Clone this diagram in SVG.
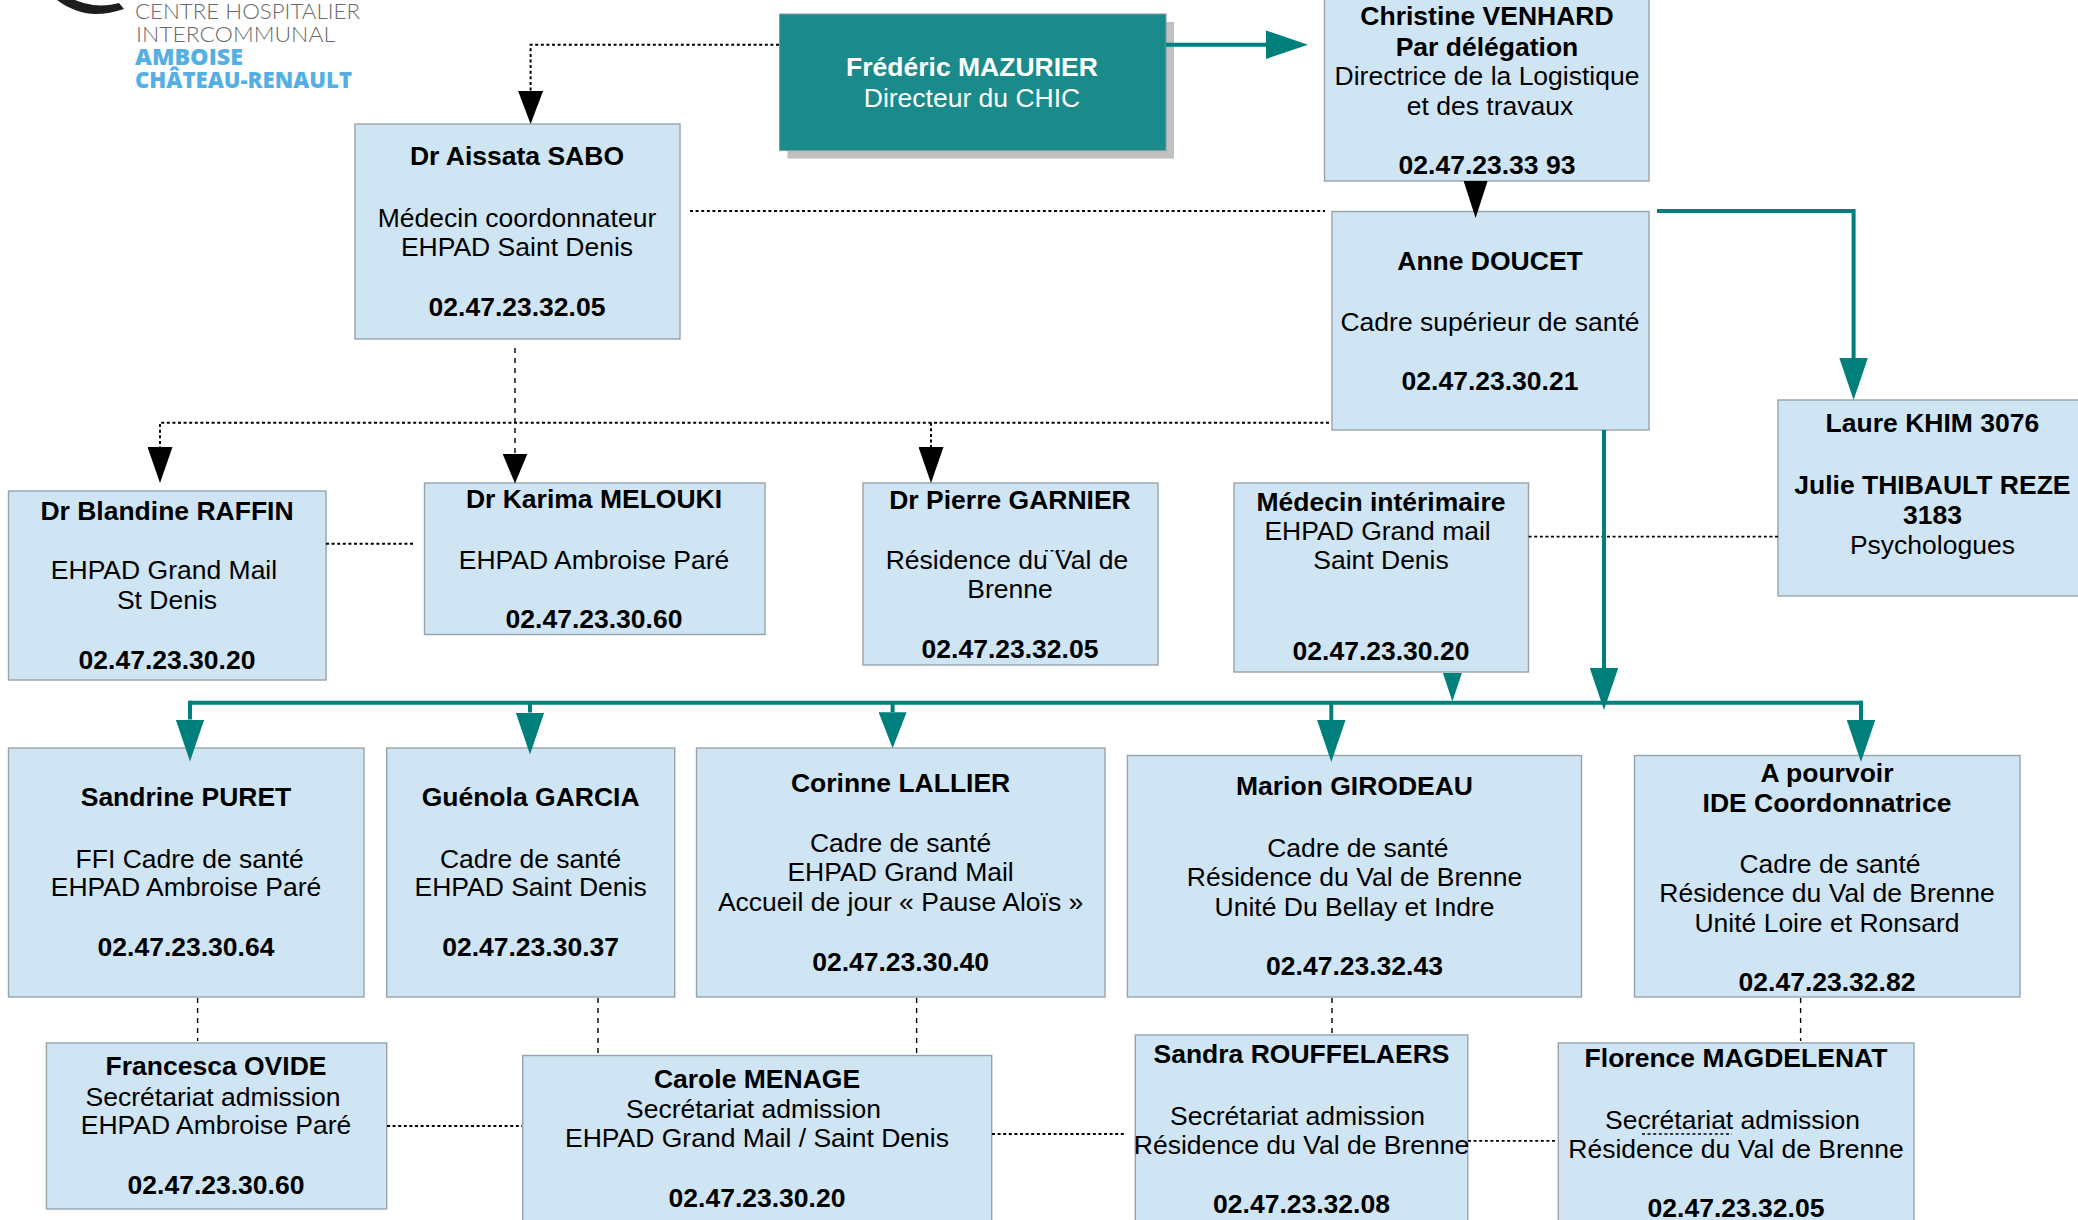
<svg xmlns="http://www.w3.org/2000/svg" width="2078" height="1220" viewBox="0 0 2078 1220">
<style>
text{font-family:"Liberation Sans",Arial,sans-serif;font-size:26.5px;fill:#000;text-anchor:middle}
.b{font-weight:700}
.box{fill:#cfe5f4;stroke:#98a4ac;stroke-width:1.4}
.dir text{fill:#fff}
.dot{fill:none;stroke:#000;stroke-width:2;stroke-dasharray:3 2.6}
.fine{stroke-width:1.6}
.dash{fill:none;stroke:#000;stroke-width:1.4;stroke-dasharray:5 5}
.teal{fill:none;stroke:#00807c;stroke-width:4}
.logo text{text-anchor:start}
.thin{font-family:"Lato","Open Sans",sans-serif;font-weight:300;font-size:22px;fill:#6a6a6a}
.blue{font-family:"Open Sans","Lato",sans-serif;font-weight:800;font-size:22px;fill:#54b0e4}
</style>
<defs>
<marker id="bk36" markerUnits="userSpaceOnUse" markerWidth="36" markerHeight="25" viewBox="0 0 36 25" refX="0" refY="12.5" orient="auto"><path d="M0 0L36 12.5L0 25Z" fill="#000"/></marker>
<marker id="bk33" markerUnits="userSpaceOnUse" markerWidth="33" markerHeight="25" viewBox="0 0 33 25" refX="0" refY="12.5" orient="auto"><path d="M0 0L33 12.5L0 25Z" fill="#000"/></marker>
<marker id="bk30" markerUnits="userSpaceOnUse" markerWidth="30" markerHeight="25" viewBox="0 0 30 25" refX="0" refY="12.5" orient="auto"><path d="M0 0L30 12.5L0 25Z" fill="#000"/></marker>
<marker id="tl42" markerUnits="userSpaceOnUse" markerWidth="42" markerHeight="28.5" viewBox="0 0 42 28.5" refX="0" refY="14.25" orient="auto"><path d="M0 0L42 14.25L0 28.5Z" fill="#00807c"/></marker>
<marker id="tl36" markerUnits="userSpaceOnUse" markerWidth="36" markerHeight="28" viewBox="0 0 36 28" refX="0" refY="14" orient="auto"><path d="M0 0L36 14L0 28Z" fill="#00807c"/></marker>
</defs>
<rect width="2078" height="1220" fill="#fff"/>

<g id="logo" class="logo">
<path d="M57 0C70 10 85 14 95 14C105 14 115 12 124 9L119 3C112 5 103 6 93 5C87 4 80 2 75 0Z" fill="#1d1d1b"/>
<text class="thin" x="135" y="19" textLength="225" lengthAdjust="spacingAndGlyphs">CENTRE HOSPITALIER</text>
<text class="thin" x="136" y="42" textLength="199" lengthAdjust="spacingAndGlyphs">INTERCOMMUNAL</text>
<text class="blue" x="135" y="64.5" textLength="108" lengthAdjust="spacingAndGlyphs">AMBOISE</text>
<text class="blue" x="135" y="87.5" textLength="217" lengthAdjust="spacingAndGlyphs">CHÂTEAU-RENAULT</text>
</g>

<g id="node-mazurier" class="dir">
<rect x="787.5" y="22" width="386.500" height="136.600" fill="#c0c0c0"/>
<rect x="779.500" y="14" width="386.500" height="136.600" fill="#1a8a8a" stroke="#8a9aa0" stroke-width="1"/>
<text class="b" x="972" y="76.300">Frédéric MAZURIER</text>
<text x="972" y="106.800">Directeur du CHIC</text>
</g>
<g id="node-venhard">
<rect class="box" x="1324.500" y="-2" width="324.500" height="183"/>
<text class="b" x="1487" y="24.500">Christine VENHARD</text>
<text class="b" x="1487" y="56">Par délégation</text>
<text x="1487" y="84.600">Directrice de la Logistique</text>
<text x="1490" y="115">et des travaux</text>
<text class="b" x="1487" y="174.400">02.47.23.33 93</text>
</g>
<g id="node-sabo">
<rect class="box" x="355" y="124" width="325" height="215"/>
<text class="b" x="517" y="165">Dr Aissata SABO</text>
<text x="517" y="226.600">Médecin coordonnateur</text>
<text x="517" y="255.800">EHPAD Saint Denis</text>
<text class="b" x="517" y="315.500">02.47.23.32.05</text>
</g>
<g id="node-doucet">
<rect class="box" x="1332" y="211.500" width="317" height="218.500"/>
<text class="b" x="1490" y="269.700">Anne DOUCET</text>
<text x="1490" y="330.600">Cadre supérieur de santé</text>
<text class="b" x="1490" y="389.500">02.47.23.30.21</text>
</g>
<g id="node-khim">
<rect class="box" x="1778" y="400" width="312" height="196"/>
<text class="b" x="1932.400" y="431.800">Laure KHIM 3076</text>
<text class="b" x="1932.400" y="493.500">Julie THIBAULT REZE</text>
<text class="b" x="1932.400" y="523.500">3183</text>
<text x="1932.400" y="553.600">Psychologues</text>
</g>
<g id="node-raffin">
<rect class="box" x="8.500" y="491" width="317.500" height="189"/>
<text class="b" x="167" y="519.600">Dr Blandine RAFFIN</text>
<text x="164" y="579.300">EHPAD Grand Mail</text>
<text x="167" y="609.300">St Denis</text>
<text class="b" x="167" y="669">02.47.23.30.20</text>
</g>
<g id="node-melouki">
<rect class="box" x="424.500" y="483" width="340.500" height="151.500"/>
<text class="b" x="594" y="507.700">Dr Karima MELOUKI</text>
<text x="594" y="568.600">EHPAD Ambroise Paré</text>
<text class="b" x="594" y="628">02.47.23.30.60</text>
</g>
<g id="node-garnier">
<rect class="box" x="863" y="483" width="295" height="182"/>
<text class="b" x="1010" y="508.500">Dr Pierre GARNIER</text>
<text x="1007" y="568.600">Résidence du Val de</text>
<text x="1010" y="598">Brenne</text>
<text class="b" x="1010" y="657.500">02.47.23.32.05</text>
</g>
<g id="node-interim">
<rect class="box" x="1234" y="483" width="294.500" height="189"/>
<text class="b" x="1381" y="511">Médecin intérimaire</text>
<text x="1377.600" y="540">EHPAD Grand mail</text>
<text x="1381" y="569.400">Saint Denis</text>
<text class="b" x="1381" y="660">02.47.23.30.20</text>
</g>
<g id="node-puret">
<rect class="box" x="8.500" y="748" width="355.500" height="249"/>
<text class="b" x="186" y="806.400">Sandrine PURET</text>
<text x="189.700" y="867.600">FFI Cadre de santé</text>
<text x="186" y="896.300">EHPAD Ambroise Paré</text>
<text class="b" x="186" y="956">02.47.23.30.64</text>
</g>
<g id="node-garcia">
<rect class="box" x="386.700" y="748" width="288" height="249"/>
<text class="b" x="530.600" y="806.400">Guénola GARCIA</text>
<text x="530.600" y="867.600">Cadre de santé</text>
<text x="530.600" y="896.300">EHPAD Saint Denis</text>
<text class="b" x="530.600" y="956">02.47.23.30.37</text>
</g>
<g id="node-lallier">
<rect class="box" x="696.500" y="748" width="408.500" height="249"/>
<text class="b" x="900.600" y="792">Corinne LALLIER</text>
<text x="900.600" y="852.300">Cadre de santé</text>
<text x="900.600" y="881">EHPAD Grand Mail</text>
<text x="900.600" y="911">Accueil de jour « Pause Aloïs »</text>
<text class="b" x="900.600" y="971">02.47.23.30.40</text>
</g>
<g id="node-girodeau">
<rect class="box" x="1127.400" y="755.500" width="454.100" height="241.500"/>
<text class="b" x="1354.500" y="795.300">Marion GIRODEAU</text>
<text x="1357.800" y="856.500">Cadre de santé</text>
<text x="1354.500" y="885.600">Résidence du Val de Brenne</text>
<text x="1354.500" y="915.800">Unité Du Bellay et Indre</text>
<text class="b" x="1354.500" y="975">02.47.23.32.43</text>
</g>
<g id="node-pourvoir">
<rect class="box" x="1634.500" y="755.500" width="385.500" height="241.500"/>
<text class="b" x="1827" y="781.500">A pourvoir</text>
<text class="b" x="1827" y="812">IDE Coordonnatrice</text>
<text x="1830" y="872.600">Cadre de santé</text>
<text x="1827" y="901.700">Résidence du Val de Brenne</text>
<text x="1827" y="932">Unité Loire et Ronsard</text>
<text class="b" x="1827" y="991">02.47.23.32.82</text>
</g>
<g id="node-ovide">
<rect class="box" x="46.400" y="1043" width="340.300" height="166"/>
<text class="b" x="216" y="1075">Francesca OVIDE</text>
<text x="213" y="1106">Secrétariat admission</text>
<text x="216" y="1134">EHPAD Ambroise Paré</text>
<text class="b" x="216" y="1194">02.47.23.30.60</text>
</g>
<g id="node-menage">
<rect class="box" x="522.700" y="1055.500" width="469" height="180"/>
<text class="b" x="757" y="1088">Carole MENAGE</text>
<text x="753.500" y="1118">Secrétariat admission</text>
<text x="757" y="1147.400">EHPAD Grand Mail / Saint Denis</text>
<text class="b" x="757" y="1207">02.47.23.30.20</text>
</g>
<g id="node-rouffelaers">
<rect class="box" x="1135.300" y="1035" width="332.500" height="200"/>
<text class="b" x="1301.500" y="1063">Sandra ROUFFELAERS</text>
<text x="1297.500" y="1125">Secrétariat admission</text>
<text x="1301.500" y="1153.500">Résidence du Val de Brenne</text>
<text class="b" x="1301.500" y="1213">02.47.23.32.08</text>
</g>
<g id="node-magdelenat">
<rect class="box" x="1558.300" y="1043" width="355.700" height="200"/>
<text class="b" x="1736" y="1067">Florence MAGDELENAT</text>
<text x="1732.500" y="1129">Secrétariat admission</text>
<text x="1736" y="1157.700">Résidence du Val de Brenne</text>
<text class="b" x="1736" y="1217.400">02.47.23.32.05</text>
</g>

<g id="connectors">
<path class="dot" d="M779 44.700H530.600V91" marker-end="url(#bk33)"/>
<path class="dot" d="M690 211H1325"/>
<path class="dash" d="M515 348V453.500" marker-end="url(#bk30)"/>
<path class="dot" d="M1329 422.700H160V447" marker-end="url(#bk36)"/>
<path class="dot" d="M931 422.700V447" marker-end="url(#bk36)"/>
<path class="dot" d="M326 543.700H415"/>
<path class="dot fine" d="M1528.600 536.600H1778"/>
<path d="M1463.600 181H1487.600L1475.600 218Z" fill="#000"/>
<path class="teal" d="M1166 44.700H1266" marker-end="url(#tl42)"/>
<path class="teal" d="M1657 211H1853.600V358" marker-end="url(#tl42)"/>
<path class="teal" d="M1604 430V668" marker-end="url(#tl42)"/>
<path class="teal" d="M190 702.700H1861"/>
<path class="teal" d="M190 700.700V719.500" marker-end="url(#tl42)"/>
<path class="teal" d="M530 702.700V712.500" marker-end="url(#tl42)"/>
<path class="teal" d="M892.600 702.700V712.200" marker-end="url(#tl36)"/>
<path class="teal" d="M1331.300 702.700V720" marker-end="url(#tl42)"/>
<path class="teal" d="M1861 700.700V720" marker-end="url(#tl42)"/>
<path d="M1442.900 673H1461.900L1452.400 701.500Z" fill="#00807c"/>
<path class="dash" d="M197.600 998V1041"/>
<path class="dash" d="M598 998V1055"/>
<path class="dash" d="M916.600 998V1055"/>
<path class="dash" d="M1332 998V1033"/>
<path class="dash" d="M1800.600 998V1041"/>
<path class="dot" d="M387 1126H522"/>
<path class="dot" d="M992 1134H1126"/>
<path class="dot fine" d="M1468 1140.900H1556"/>
<path class="dot fine" d="M1642 1134H1732"/>
<path class="dot fine" d="M1045 550.700H1065"/>
</g>
</svg>
